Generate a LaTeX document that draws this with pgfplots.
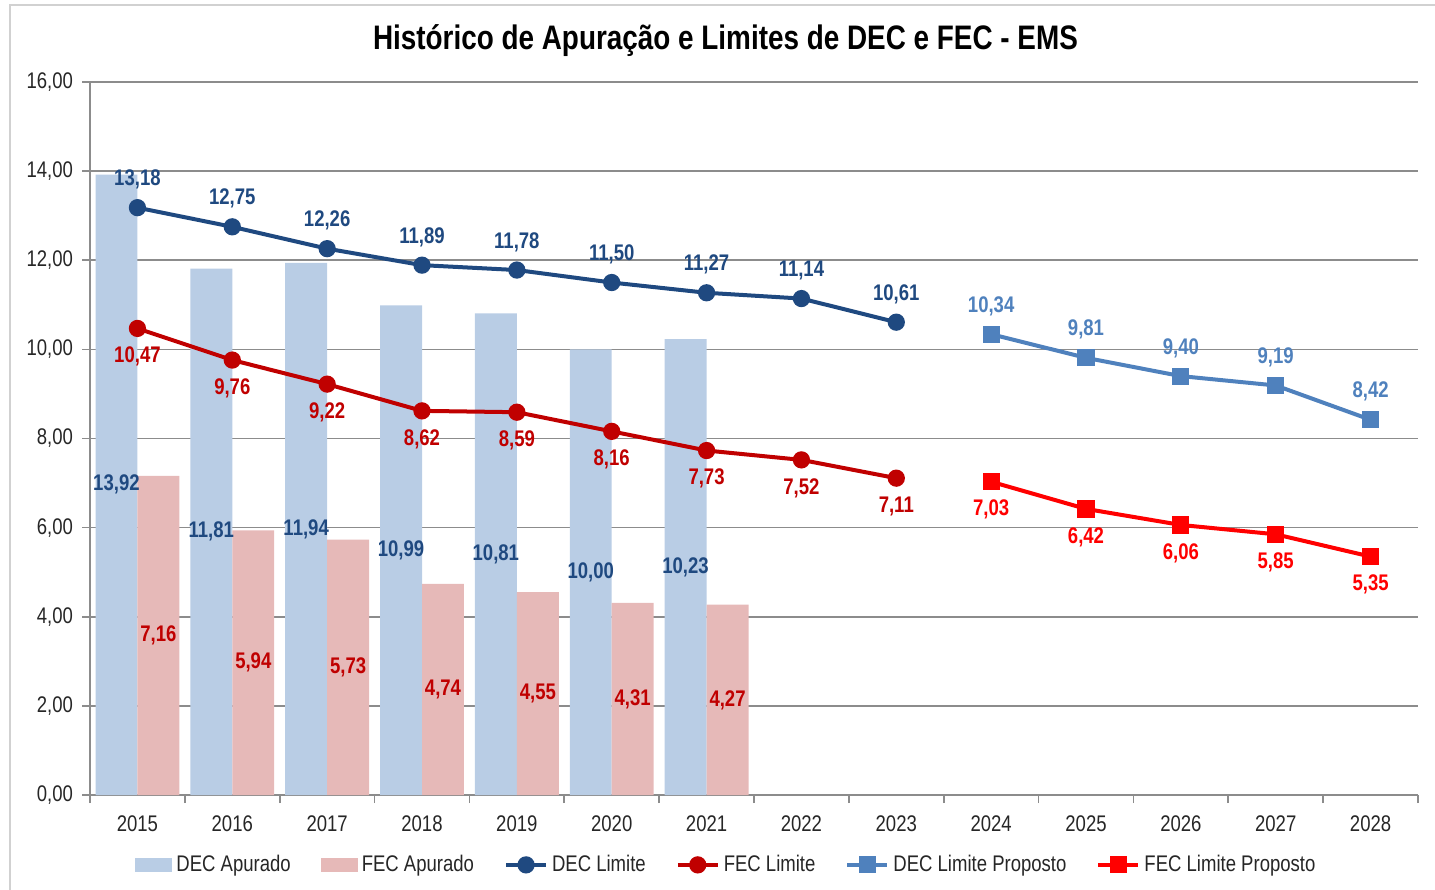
\documentclass[border=0pt]{standalone}
\usepackage{fontspec}
\setmainfont[FakeStretch=0.82]{Liberation Sans}
\usepackage{pgfplots}
\pgfplotsset{compat=1.18}
\definecolor{decbar}{HTML}{B9CDE5}
\definecolor{fecbar}{HTML}{E6B9B8}
\definecolor{declim}{RGB}{31,73,128}
\definecolor{feclim}{HTML}{C00000}
\definecolor{decprop}{HTML}{4F81BD}
\definecolor{fecprop}{HTML}{FF0000}
\definecolor{gridc}{HTML}{8C8C8C}
\pgfplotsset{
  mylinelegend/.style={legend image code/.code={\draw[##1,mark repeat=2,mark phase=2] plot coordinates {(0pt,0pt)(10pt,0pt)(20pt,0pt)};}},
  decbarlegend/.style={legend image code/.code={\fill[decbar] (0pt,-3.5pt) rectangle (18.5pt,3.5pt);}},
  fecbarlegend/.style={legend image code/.code={\fill[fecbar] (0pt,-3.5pt) rectangle (18.5pt,3.5pt);}},
}
\begin{document}
\begin{tikzpicture}
\path[use as bounding box] (-45pt,-47pt) rectangle (672.5pt,397.5pt);
\draw[color=black!18, line width=1pt] (-40pt,-60pt) -- (-40pt,395pt) -- (680pt,395pt);
\begin{axis}[
  at={(0,0)}, anchor=south west,
  scale only axis, width=664pt, height=356.5pt,
  xmin=-0.5, xmax=13.5, ymin=0, ymax=16,
  axis lines=left, axis line style={gridc, line width=0.8pt, -},
  ytick={0,2,...,16},
  ymajorgrids, grid style={gridc, line width=0.8pt},
  xtick={-0.5,0.5,...,13.5},
  x tick label as interval,
  xticklabels={2015,2016,2017,2018,2019,2020,2021,2022,2023,2024,2025,2026,2027,2028},
  tick align=outside, major tick length=4pt,
  tick style={gridc, line width=0.8pt},
  /pgf/number format/assume math mode=true,
  /pgf/number format/.cd, fixed, fixed zerofill, precision=2, use comma, 1000 sep={},
  /pgfplots/.cd,
  ticklabel style={font=\fontsize{11.3}{13}\selectfont, text=black!85},
  xticklabel style={yshift=-3pt},
  yticklabel style={xshift=-1pt},
  title={\textbf{Histórico de Apuração e Limites de DEC e FEC - EMS}},
  title style={font=\fontsize{17}{20}\selectfont, at={(axis description cs:0.4785,1)}, anchor=center, yshift=14.5pt},
  clip=false,
  legend columns=6,
  legend style={draw=none, fill=none, at={(axis description cs:0.48,-0.098)}, anchor=center,
    font=\fontsize{11.3}{13}\selectfont, text=black!85,
    /tikz/every even column/.append style={column sep=13pt}},
  legend cell align=left,
  nodes near coords style={font=\bfseries\fontsize{11.3}{13}\selectfont},
]
% DEC Apurado bars
\addplot[ybar, bar width=0.442, bar shift=-0.221, fill=decbar, draw=none,
  visualization depends on={y/2 \as \halfy},
  nodes near coords, point meta=y,
  nodes near coords style={anchor=center, text=declim, xshift=-10.5pt, shift={(axis direction cs:0,-\halfy)}},
  decbarlegend]
  coordinates {(0,13.92) (1,11.81) (2,11.94) (3,10.99) (4,10.81) (5,10.00) (6,10.23)};
\addlegendentry{DEC Apurado}
% FEC Apurado bars
\addplot[ybar, bar width=0.442, bar shift=0.221, fill=fecbar, draw=none,
  visualization depends on={y/2 \as \halfy},
  nodes near coords, point meta=y,
  nodes near coords style={anchor=center, text=feclim, xshift=10.5pt, shift={(axis direction cs:0,-\halfy)}},
  fecbarlegend]
  coordinates {(0,7.16) (1,5.94) (2,5.73) (3,4.74) (4,4.55) (5,4.31) (6,4.27)};
\addlegendentry{FEC Apurado}
% DEC Limite
\addplot[color=declim, line width=2pt, mark=*, mark size=3.3pt,
  nodes near coords, point meta=y,
  nodes near coords style={anchor=center, text=declim, yshift=14pt},
  mylinelegend]
  coordinates {(0,13.18) (1,12.75) (2,12.26) (3,11.89) (4,11.78) (5,11.50) (6,11.27) (7,11.14) (8,10.61)};
\addlegendentry{DEC Limite}
% FEC Limite
\addplot[color=feclim, line width=2pt, mark=*, mark size=3.3pt,
  nodes near coords, point meta=y,
  nodes near coords style={anchor=center, text=feclim, yshift=-14pt},
  mylinelegend]
  coordinates {(0,10.47) (1,9.76) (2,9.22) (3,8.62) (4,8.59) (5,8.16) (6,7.73) (7,7.52) (8,7.11)};
\addlegendentry{FEC Limite}
% DEC Limite Proposto
\addplot[color=decprop, line width=2pt, mark=square*, mark size=3.3pt,
  nodes near coords, point meta=y,
  nodes near coords style={anchor=center, text=decprop, yshift=14pt},
  mylinelegend]
  coordinates {(9,10.34) (10,9.81) (11,9.40) (12,9.19) (13,8.42)};
\addlegendentry{DEC Limite Proposto}
% FEC Limite Proposto
\addplot[color=fecprop, line width=2pt, mark=square*, mark size=3.3pt,
  nodes near coords, point meta=y,
  nodes near coords style={anchor=center, text=fecprop, yshift=-14pt},
  mylinelegend]
  coordinates {(9,7.03) (10,6.42) (11,6.06) (12,5.85) (13,5.35)};
\addlegendentry{FEC Limite Proposto}
\end{axis}
\end{tikzpicture}
\end{document}
